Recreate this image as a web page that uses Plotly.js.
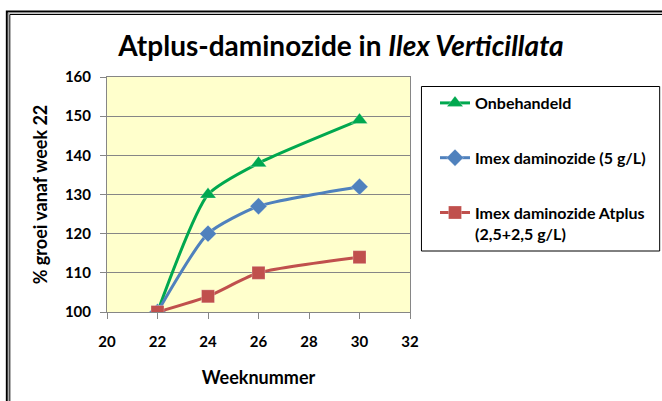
<!DOCTYPE html>
<html>
<head>
<meta charset="utf-8">
<script src="https://cdn.plot.ly/plotly-3.0.1.min.js"></script>
<style>html,body{margin:0;padding:0;background:#fff;}#chart{width:662px;height:401px;}</style>
</head>
<body>
<div id="chart"></div>
<script>
const weeks = [22, 24, 26, 30];
const onbehandeld = [100, 130, 138, 149];
const imex5 = [100, 120, 127, 132];
const imexAtplus = [100, 104, 110, 114];
const seriesNames = ['Onbehandeld', 'Imex daminozide (5 g/L)', 'Imex daminozide Atplus<br>(2,5+2,5 g/L)'];
const xTicks = [20, 22, 24, 26, 28, 30, 32];
const yTicks = [100, 110, 120, 130, 140, 150, 160];

const W = 662, H = 401;
const M = {l: 107, r: 251, t: 77, b: 89};
const pw = W - M.l - M.r, ph = H - M.t - M.b;
const px = v => (v - M.l) / pw;
const py = v => (H - M.b - v) / ph;

const F = 'Lato, "Open Sans", sans-serif';

function tr(y, name, color, symbol, size, grp) {
  return {
    x: weeks, y: y, name: '<b>' + name.replace('<br>', '</b><br><b>') + '</b>', type: 'scatter', mode: 'lines+markers',
    legendgroup: grp,
    line: {color: color, width: 3, shape: 'spline', smoothing: 0.6},
    marker: {color: color, symbol: symbol, size: size, line: {width: 0.5, color: 'rgba(255,255,255,0.5)'}}
  };
}

const data = [
  tr(onbehandeld, seriesNames[0], '#00A84F', 'triangle-up', 14, 'a'),
  tr(imex5, seriesNames[1], '#4F81BD', 'diamond', 13, 'b'),
  tr(imexAtplus, seriesNames[2], '#C0504D', 'square', 13, 'c')
];

const layout = {
  width: W, height: H,
  margin: M,
  paper_bgcolor: '#fff',
  plot_bgcolor: '#FFFFCC',
  font: {family: F, color: '#000', size: 14},
  title: {
    text: '<b>Atplus-daminozide in <i>Ilex Verticillata</i></b>',
    font: {family: F, size: 28, color: '#000'},
    x: 341 / W, xanchor: 'center', xref: 'container',
    y: 1 - 46 / H, yanchor: 'middle', yref: 'container'
  },
  xaxis: {
    range: [20, 32], tickvals: xTicks, ticktext: xTicks.map(v => '<b>' + v + '</b>'),
    showgrid: false, zeroline: false,
    showline: true, linecolor: '#868686', linewidth: 1, mirror: true,
    ticks: 'outside', ticklen: 6, tickcolor: '#868686',
    tickfont: {family: F, size: 15, color: '#000'},
    ticklabelstandoff: 10,
    title: {text: '<b>Weeknummer</b>', font: {family: F, size: 18, color: '#000'}, standoff: 22}
  },
  yaxis: {
    range: [100, 160], tickvals: yTicks, ticktext: yTicks.map(v => '<b>' + v + '</b>'),
    showgrid: true, gridcolor: '#868686', gridwidth: 1, zeroline: false,
    showline: true, linecolor: '#868686', linewidth: 1, mirror: true,
    ticks: 'outside', ticklen: 6, tickcolor: '#868686',
    tickfont: {family: F, size: 15, color: '#000'},
    ticklabelstandoff: 6,
    title: {text: '<b>% groei vanaf week 22</b>', font: {family: F, size: 18, color: '#000'}, standoff: 12}
  },
  showlegend: true,
  legend: {
    x: px(435), xanchor: 'left', y: py(86), yanchor: 'top',
    traceorder: 'grouped', tracegroupgap: 31,
    bgcolor: 'rgba(0,0,0,0)', borderwidth: 0,
    font: {family: F, size: 16, color: '#000'},
    valign: 'top'
  },
  shapes: [
    {type: 'rect', xref: 'paper', yref: 'paper', x0: px(422.5), x1: px(661.5), y0: py(251), y1: py(86.5),
     line: {color: '#000', width: 1}, fillcolor: 'rgba(0,0,0,0)', layer: 'above'},
    {type: 'rect', xref: 'paper', yref: 'paper', x0: px(6.5), x1: px(720), y0: py(460), y1: py(11.5),
     line: {color: '#000', width: 2}, fillcolor: 'rgba(0,0,0,0)'},
    {type: 'rect', xref: 'paper', yref: 'paper', x0: px(8), x1: px(720), y0: py(460), y1: py(13),
     line: {color: '#999', width: 1}, fillcolor: 'rgba(0,0,0,0)'},
    {type: 'rect', xref: 'paper', yref: 'paper', x0: px(9.5), x1: px(720), y0: py(460), y1: py(14.5),
     line: {color: '#000', width: 1}, fillcolor: 'rgba(0,0,0,0)'}
  ]
};

Plotly.newPlot('chart', data, layout, {displayModeBar: false, staticPlot: true});
</script>
</body>
</html>
